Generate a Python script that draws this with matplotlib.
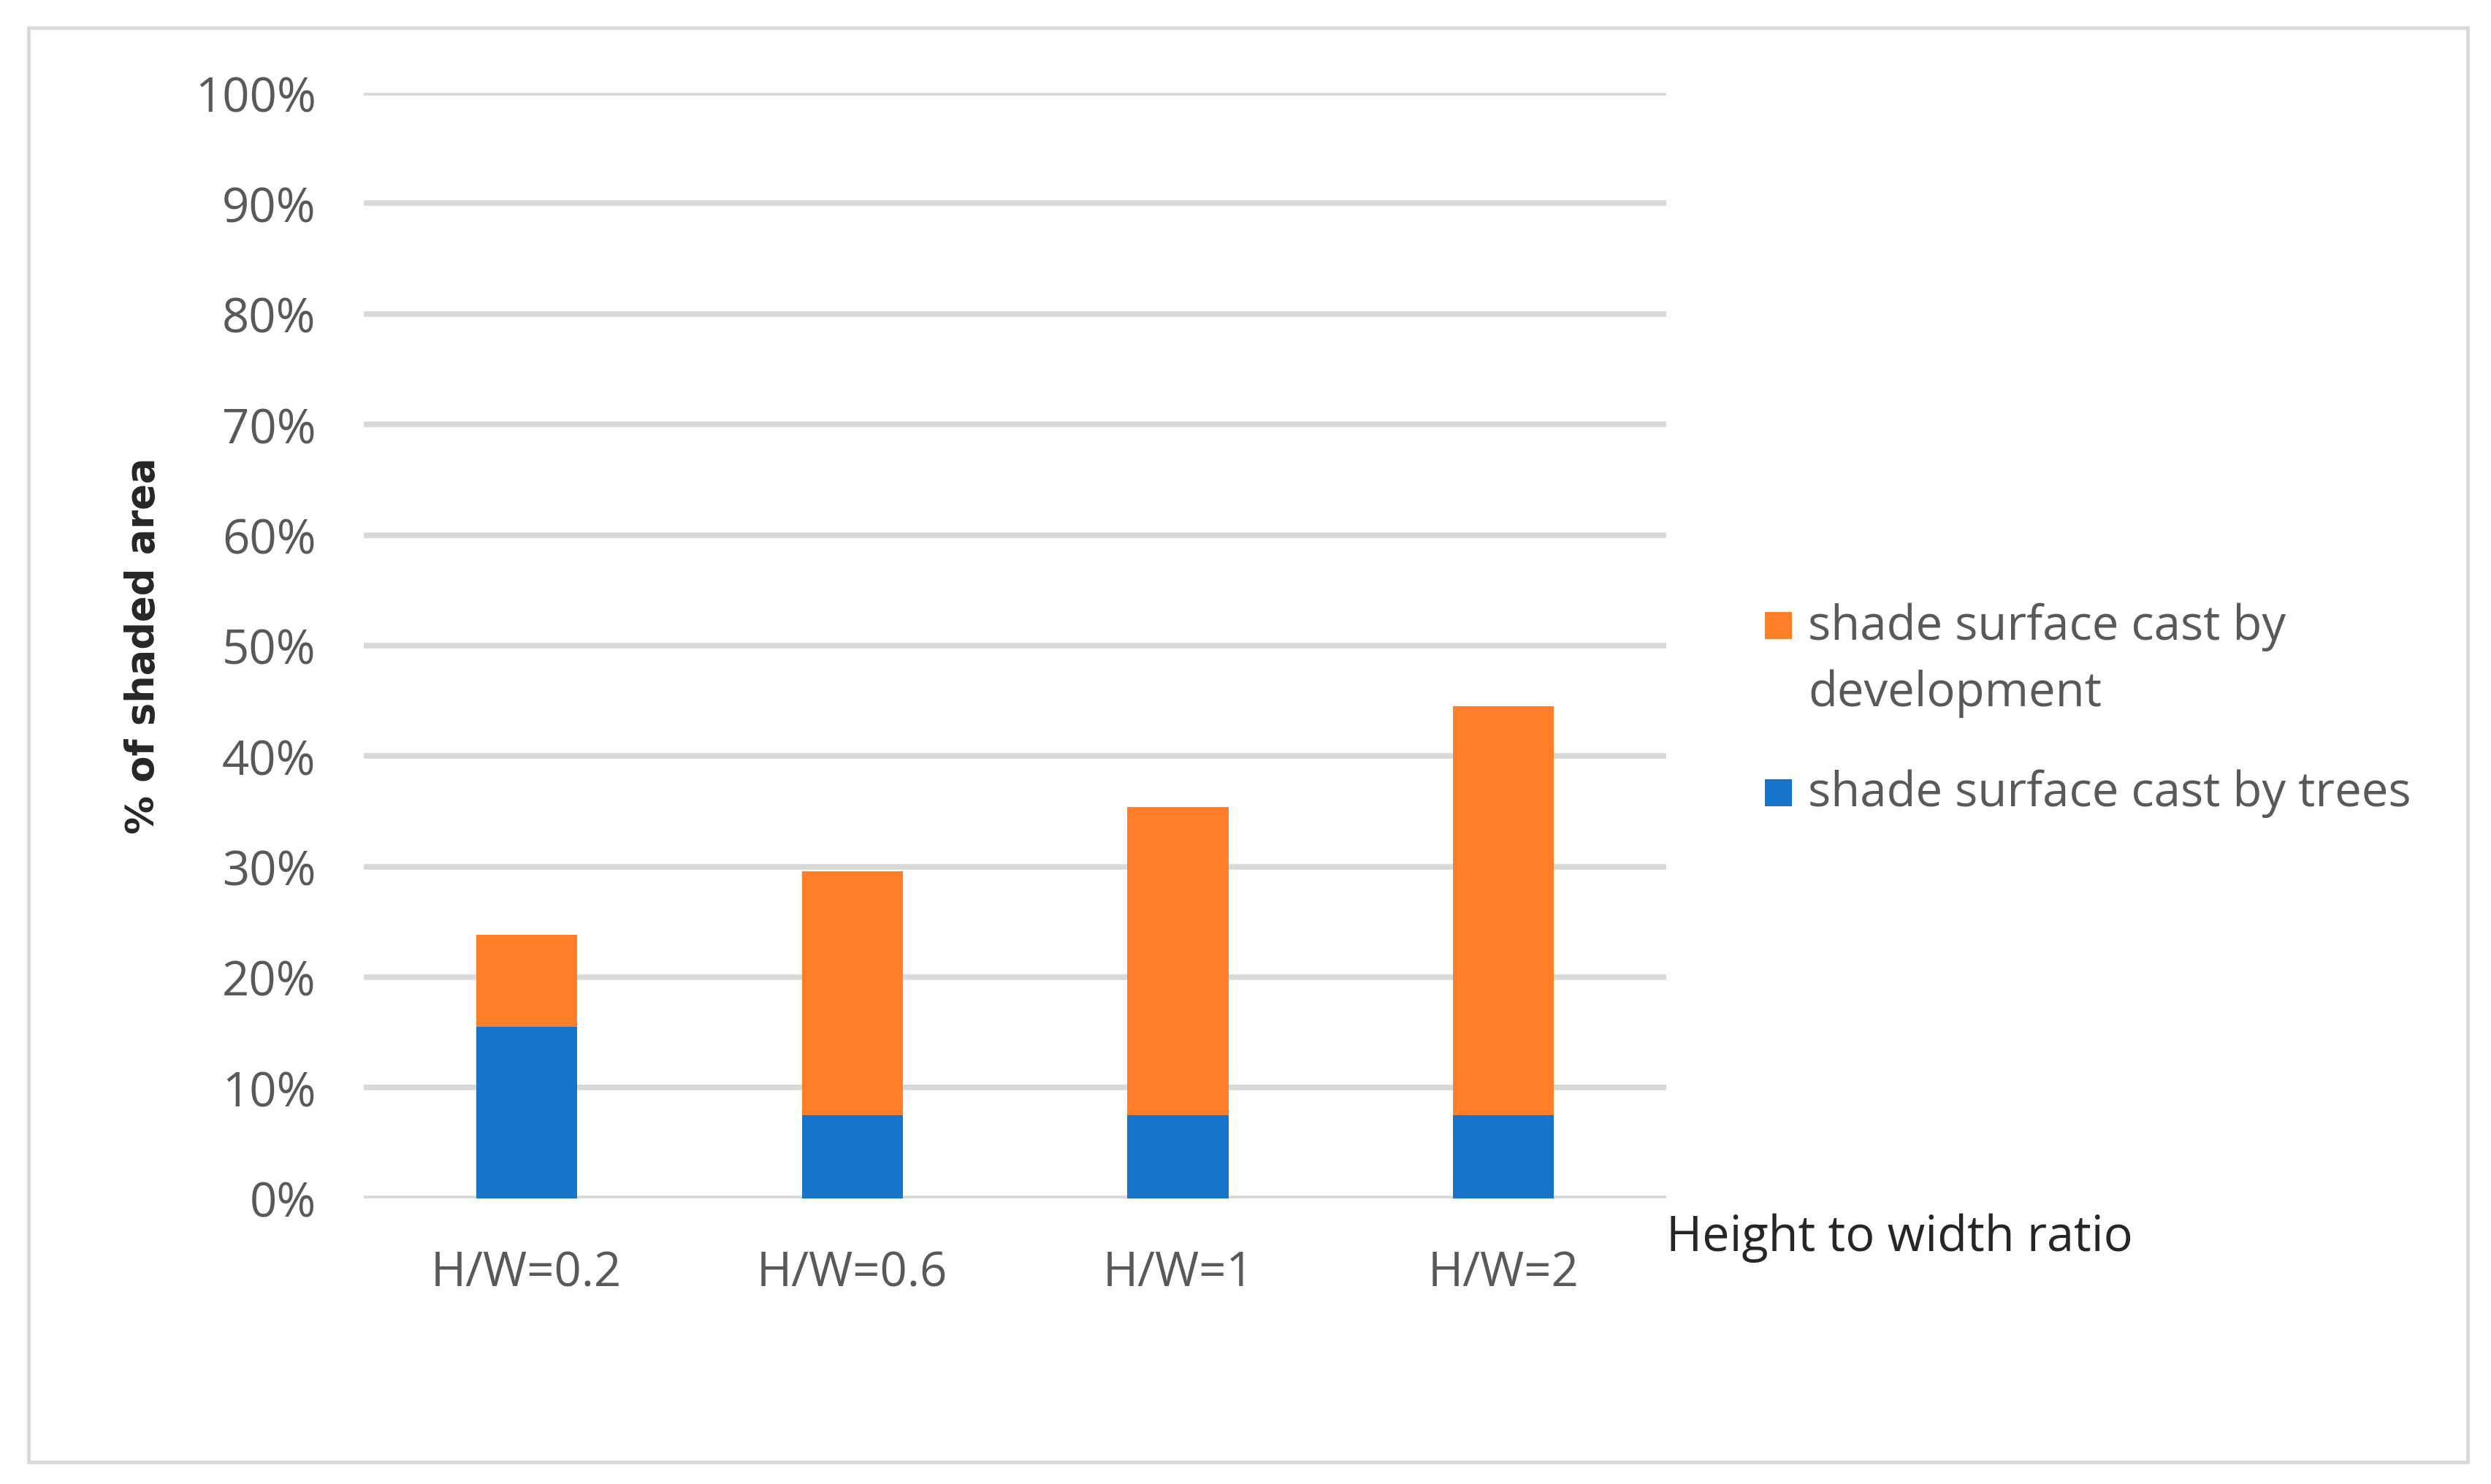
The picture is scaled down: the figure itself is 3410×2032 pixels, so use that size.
import numpy as np
import matplotlib.pyplot as plt
from matplotlib.patches import Rectangle

# Data (percent of shaded area)
categories = ['H/W=0.2', 'H/W=0.6', 'H/W=1', 'H/W=2']
trees = [15.5, 7.5, 7.5, 7.5]
development = [8.3, 22.1, 27.9, 37.0]
y_ticks = list(range(0, 101, 10))

blue = '#1874cb'
orange = '#fe7f28'
grid_grey = '#d9d9d9'
text_grey = '#595959'

plt.rcParams['font.family'] = ['Open Sans', 'DejaVu Sans']

fig = plt.figure(figsize=(34.1, 20.33), dpi=100)
fig.patch.set_facecolor('white')

# light grey frame round the whole chart
fig.patches.append(Rectangle((0.0115, 0.015), 0.979, 0.966, transform=fig.transFigure,
                             fill=False, edgecolor=grid_grey, lw=3.5))

ax = fig.add_axes([0.146, 0.1925, 0.523, 0.7445])

x = np.arange(len(categories))
ax.bar(x, trees, width=0.31, color=blue, zorder=3)
ax.bar(x, development, width=0.31, bottom=trees, color=orange, zorder=3)

ax.set_xlim(-0.5, len(categories) - 0.5)
ax.set_ylim(0, 100)
ax.set_yticks(y_ticks)
ax.set_yticklabels([f'{t}%' for t in y_ticks])
ax.set_xticks(x)
ax.set_xticklabels(categories)

for t in y_ticks:
    ax.axhline(t, color=grid_grey, lw=5.5, zorder=1)

for s in ax.spines.values():
    s.set_visible(False)
ax.tick_params(length=0, labelsize=47, labelcolor=text_grey)
ax.tick_params(axis='y', pad=47)
ax.tick_params(axis='x', pad=50)

fig.text(0.0575, 0.565, '% of shaded area', rotation=90, ha='center', va='center',
         fontsize=38, fontweight='bold', color='#262626', family='DejaVu Sans')
fig.text(0.669, 0.166, 'Height to width ratio', ha='left', va='center',
         fontsize=48, color='#262626')

# legend, drawn by hand so the square sits beside the first line of the wrapped entry
sq_w, sq_h = 0.0108, 0.0182
fig.patches.append(Rectangle((0.7085, 0.569), sq_w, sq_h, transform=fig.transFigure,
                             facecolor=orange, edgecolor='none'))
fig.patches.append(Rectangle((0.7085, 0.4567), sq_w, sq_h, transform=fig.transFigure,
                             facecolor=blue, edgecolor='none'))
fig.text(0.7258, 0.5775, 'shade surface cast by', ha='left', va='center',
         fontsize=47, color=text_grey)
fig.text(0.7258, 0.5326, 'development', ha='left', va='center',
         fontsize=47, color=text_grey)
fig.text(0.7258, 0.4652, 'shade surface cast by trees', ha='left', va='center',
         fontsize=47, color=text_grey)

fig.savefig('out.png', dpi=100)
